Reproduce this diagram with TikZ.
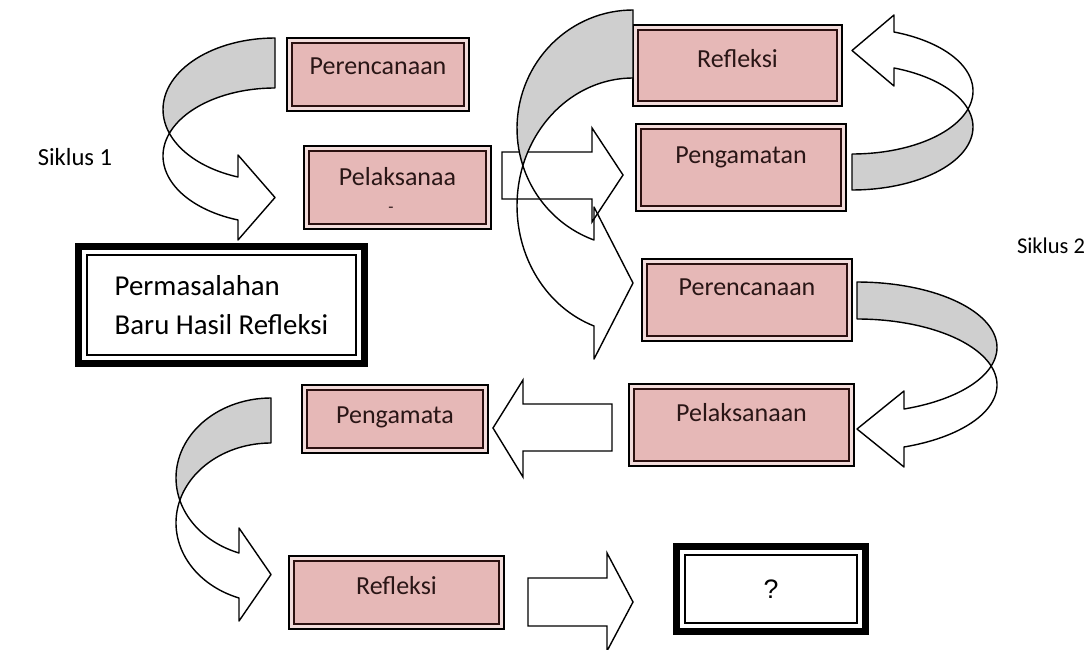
\documentclass[tikz,border=0pt]{standalone}
\usepackage{fontspec}
\setmainfont{Carlito}
\newfontfamily\arialfont{Liberation Sans}
\definecolor{stagepink}{HTML}{E6B8B7}
\definecolor{stagegap}{HTML}{F2DCDB}
\definecolor{stageline}{HTML}{2B1010}
\definecolor{stagetext}{HTML}{2A1616}
\definecolor{backgray}{HTML}{CFCFCF}

% panah lengkung: #1 x ujung pita, #2 x terjauh, #3/#4 y luar/dalam pita,
% #5 x pangkal kepala, #6/#7 y batang di pangkal, #8/#9 y kepala
\newcommand{\curvarrow}[9]{%
    \pgfmathsetmacro{\arA}{(#1)-(#2)}
    \pgfmathsetmacro{\arU}{((#5)-(#1))/\arA}
    \pgfmathsetmacro{\arS}{sqrt(1-\arU*\arU)}
    \pgfmathsetmacro{\arBo}{((#6)-(#3))/(1+\arS)}
    \pgfmathsetmacro{\arBi}{((#7)-(#4))/(1+\arS)}
    \pgfmathsetmacro{\arCo}{(#3)+\arBo}
    \pgfmathsetmacro{\arCi}{(#4)+\arBi}
    \pgfmathsetmacro{\arTb}{acos(\arU)}
    \pgfmathsetmacro{\arTk}{asin((\arCi-\arCo)/(\arBo+\arBi))}
    \draw[arrowfront] plot[domain=180-\arTk:\arTb, samples=40] ({(#1)+\arA*cos(\x)},{\arCo+\arBo*sin(\x)})
        -- (#5,#8) -- (#1,{((#8)+(#9))/2}) -- (#5,#9) -- (#5,#7)
        -- plot[domain=\arTb:180+\arTk, samples=40] ({(#1)+\arA*cos(\x)},{\arCi+\arBi*sin(\x)}) -- cycle;
    \draw[arrowback] (#1,#3)
        -- plot[domain=270:180-\arTk, samples=40] ({(#1)+\arA*cos(\x)},{\arCo+\arBo*sin(\x)})
        -- plot[domain=180+\arTk:270, samples=40] ({(#1)+\arA*cos(\x)},{\arCi+\arBi*sin(\x)}) -- cycle;
}

\begin{document}
\begin{tikzpicture}[
        x=0.025cm, y=-0.025cm,
        stagebox/.style={rectangle, inner sep=0pt, fill=stagepink, draw=stageline, line width=2pt,
            preaction={draw=black, line width=9pt}, preaction={draw=stagegap, line width=6pt},
            text=stagetext, font=\fontsize{18.5}{22}\selectfont, text height=0.64em, text depth=0pt},
        resultbox/.style={rectangle, inner sep=0pt, fill=white, draw=black, line width=1.2pt,
            preaction={draw=black, line width=17pt}, preaction={draw=white, line width=6.8pt}},
        arrowfront/.style={fill=white, draw=black, line width=1pt, line join=round},
        arrowback/.style={fill=backgray, draw=black, line width=1pt, line join=round},
        blockarrow/.style={fill=white, draw=black, line width=1pt},
        cycletext/.style={font=\fontsize{17.5}{20}\selectfont}
    ]

    \fill[white] (0,0) rectangle (1090,650);
    \useasboundingbox (0,0) rectangle (1090,650);

    % Siklus 1
    \node[stagebox, minimum width=4.3cm, minimum height=1.575cm, text depth=6.4pt] (rencana1) at (378,74.5) {Perencanaan};
    \node[stagebox, minimum width=4.425cm, minimum height=1.825cm, text depth=9.2pt] (laksana1) at (397.5,187.5) {Pelaksanaa};
    \node[text=stagetext, font=\fontsize{12}{14}\selectfont] (laksana1dash) at (391,210) {-};
    \node[stagebox, minimum width=5cm, minimum height=1.925cm, text depth=12.8pt] (amat1) at (741,167.5) {Pengamatan};
    \node[stagebox, minimum width=4.975cm, minimum height=1.775cm, text depth=3.6pt] (refleksi1) at (737.5,65.5) {Refleksi};
    \node[resultbox, minimum width=6.725cm, minimum height=2.5cm, align=left,
        font=\fontsize{20.5}{27.7}\selectfont] (masalah) at (221.5,305) {Permasalahan\\Baru Hasil Refleksi};

    % Siklus 2
    \node[stagebox, minimum width=5cm, minimum height=1.8cm, text depth=12.1pt] (rencana2) at (747,300) {Perencanaan};
    \node[stagebox, minimum width=5.375cm, minimum height=1.8cm, text depth=11.4pt] (laksana2) at (741.5,425) {Pelaksanaan};
    \node[stagebox, minimum width=4.4cm, minimum height=1.45cm] (amat2) at (395,419) {Pengamata};
    \node[stagebox, minimum width=5.125cm, minimum height=1.575cm, text depth=3.6pt] (refleksi2) at (396.5,592.5) {Refleksi};
    \node[resultbox, minimum width=4.3cm, minimum height=1.7cm, font=\arialfont\fontsize{19}{22}\selectfont] (hasil) at (771,589) {?};

    % Label siklus
    \node[cycletext] (siklus1) at (75,157) {Siklus 1};
    \node[cycletext, font=\fontsize{16}{19}\selectfont] (siklus2) at (1051,246) {Siklus 2};

    % Panah lurus
    \draw[blockarrow] (502,152) -- (592,152) -- (592,128) -- (623,175) -- (592,222) -- (592,199) -- (502,199) -- cycle;
    \draw[blockarrow] (612,404) -- (523,404) -- (523,380) -- (493,428) -- (523,477) -- (523,451) -- (612,451) -- cycle;
    \draw[blockarrow] (528,578) -- (607,578) -- (607,553) -- (633,602) -- (607,651) -- (607,626) -- (528,626) -- cycle;

    % Panah lengkung
    \curvarrow{275}{163}{38}{88}{238}{177}{220}{155}{240}
    \begin{scope}[arrowfront/.style={draw=black, line width=1pt, line join=round}]
        \curvarrow{633}{517}{10}{78}{594}{240}{326}{207}{359}
    \end{scope}
    \begin{scope}[xscale=-1, yscale=-1]
        \curvarrow{-852}{-973}{-190}{-154}{-894}{-68}{-32}{-86}{-15}
    \end{scope}
    \begin{scope}[xscale=-1]
        \curvarrow{-857}{-997}{282}{319}{-904}{409}{447}{391}{467}
    \end{scope}
    \curvarrow{271}{176}{398}{443}{239}{553}{598}{528}{621}

\end{tikzpicture}
\end{document}
